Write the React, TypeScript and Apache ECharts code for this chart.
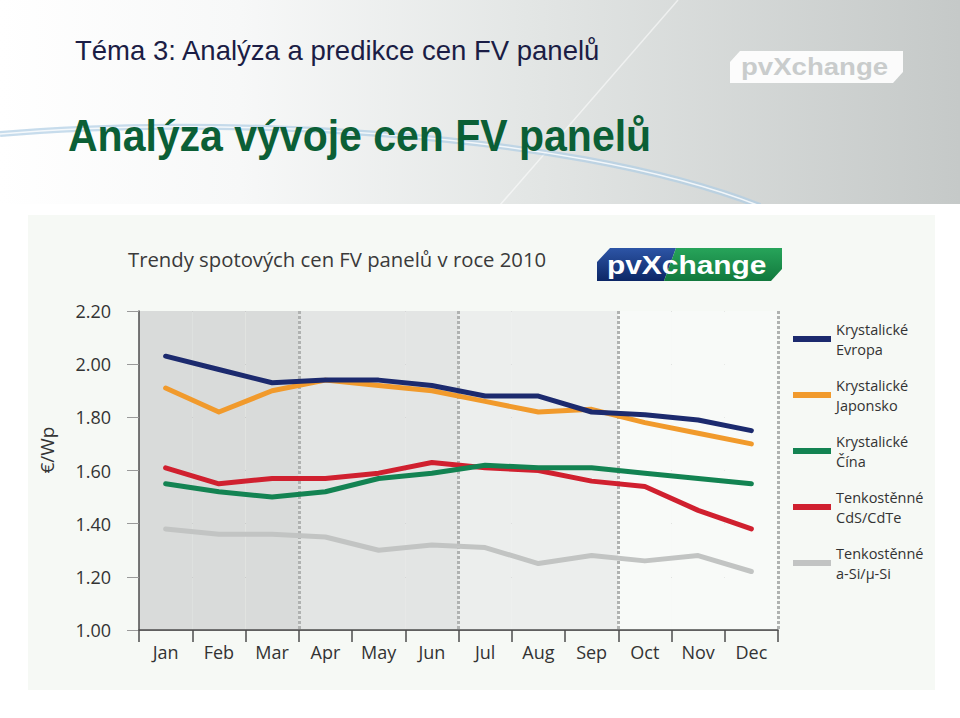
import React, { useEffect, useRef } from 'react';
import * as echarts from 'echarts';

const months = ['Jan', 'Feb', 'Mar', 'Apr', 'May', 'Jun', 'Jul', 'Aug', 'Sep', 'Oct', 'Nov', 'Dec'];
const yMin = 1.0;
const yMax = 2.2;
const yStep = 0.2;

const seriesNames = [
  'Krystalické Evropa',
  'Krystalické Japonsko',
  'Krystalické Čína',
  'Tenkostěnné CdS/CdTe',
  'Tenkostěnné a-Si/µ-Si',
];
const evropa = [2.03, 1.98, 1.93, 1.94, 1.94, 1.92, 1.88, 1.88, 1.82, 1.81, 1.79, 1.75];
const japonsko = [1.91, 1.82, 1.90, 1.94, 1.92, 1.90, 1.86, 1.82, 1.83, 1.78, 1.74, 1.70];
const cina = [1.55, 1.52, 1.50, 1.52, 1.57, 1.59, 1.62, 1.61, 1.61, 1.59, 1.57, 1.55];
const cdte = [1.61, 1.55, 1.57, 1.57, 1.59, 1.63, 1.61, 1.60, 1.56, 1.54, 1.45, 1.38];
const asi = [1.38, 1.36, 1.36, 1.35, 1.30, 1.32, 1.31, 1.25, 1.28, 1.26, 1.28, 1.22];
const seriesColors = ['#1c2a6e', '#f19a2c', '#138352', '#d0202f', '#c2c4c3'];

const quarterShades = ['#d9dbda', '#e3e5e4', '#eceeed', '#f8faf8'];

const headerTitle = 'Téma 3: Analýza a predikce cen FV panelů';
const mainTitle = 'Analýza vývoje cen FV panelů';
const chartTitle = 'Trendy spotových cen FV panelů v roce 2010';
const yAxisName = '€/Wp';

const FONT = 'Open Sans';

export default function App() {
  const ref = useRef<HTMLDivElement>(null);

  useEffect(() => {
    if (!ref.current) return;
    const chart = echarts.init(ref.current, null, { renderer: 'svg' });
    const allData = [evropa, japonsko, cina, cdte, asi];
    const splitColors: string[] = [];
    months.forEach((_, i) => splitColors.push(quarterShades[Math.floor(i / 3)]));

    const txt = (text: string, x: number, y: number, extra: any = {}, style: any = {}) => ({
      type: 'text',
      x,
      y,
      ...extra,
      style: {
        text,
        fill: '#333',
        fontFamily: FONT,
        fontSize: 16,
        align: 'left',
        verticalAlign: 'middle',
        textAlign: 'left',
        textVerticalAlign: 'middle',
        ...style,
      },
    });

    const swoosh = { x1: 0, y1: 134, cpx1: 200, cpy1: 116, cpx2: 560, cpy2: 128, x2: 760, y2: 206 };

    const option: any = {
      animation: false,
      backgroundColor: '#ffffff',
      grid: { left: 139, top: 311, width: 639, height: 319, containLabel: false },
      legend: {
        orient: 'vertical',
        left: 788,
        top: 314,
        itemWidth: 38,
        itemHeight: 6,
        itemGap: 16,
        icon: 'rect',
        data: seriesNames,
        formatter: (n: string) => n.replace(' ', '\n'),
        textStyle: { fontFamily: FONT, fontSize: 14.5, lineHeight: 20, color: '#333' },
      },
      xAxis: {
        type: 'category',
        data: months,
        boundaryGap: true,
        axisLine: { lineStyle: { color: '#4d4d4d', width: 1.5 } },
        axisTick: { show: true, interval: 0, length: 12, lineStyle: { color: '#4d4d4d', width: 1.5 } },
        axisLabel: { interval: 0, margin: 13, fontSize: 18, color: '#333', fontFamily: FONT },
        splitLine: {
          show: true,
          interval: (i: number) => i > 0 && i % 3 === 0,
          lineStyle: { color: '#b0b2b1', width: 3, type: [3, 2] },
        },
        splitArea: { show: true, interval: 0, areaStyle: { color: splitColors } },
      },
      yAxis: {
        type: 'value',
        min: yMin,
        max: yMax,
        interval: yStep,
        axisLine: { show: true, lineStyle: { color: '#4d4d4d', width: 1.5 } },
        axisTick: { show: true, length: 12, lineStyle: { color: '#9a9a9a' } },
        axisLabel: {
          formatter: (v: number) => v.toFixed(2),
          fontSize: 18,
          margin: 28,
          color: '#333',
          fontFamily: FONT,
        },
        splitLine: { show: true, lineStyle: { color: '#9a9a9a', width: 1 } },
      },
      series: seriesNames.map((name, i) => ({
        name,
        type: 'line',
        data: allData[i],
        symbol: 'none',
        showSymbol: false,
        color: seriesColors[i],
        itemStyle: { color: seriesColors[i] },
        lineStyle: { width: 5, color: seriesColors[i], cap: 'round', join: 'round' },
        z: 3 + (4 - i),
      })),
      graphic: [
        // header background
        {
          type: 'rect',
          z: -20,
          shape: { x: 0, y: 0, width: 960, height: 204 },
          style: {
            fill: new echarts.graphic.LinearGradient(0, 0, 1, 0, [
              { offset: 0, color: '#ffffff' },
              { offset: 0.25, color: '#f7f8f8' },
              { offset: 0.55, color: '#e3e6e5' },
              { offset: 1, color: '#c5c9c8' },
            ]),
          },
        },
        {
          type: 'line',
          z: -19,
          shape: { x1: 678, y1: 0, x2: 500, y2: 205 },
          style: { stroke: 'rgba(255,255,255,0.55)', lineWidth: 1.5 },
        },
        {
          type: 'bezierCurve',
          z: -19,
          shape: swoosh,
          style: { stroke: 'rgba(175,205,228,0.7)', lineWidth: 6, fill: 'none' },
        },
        {
          type: 'bezierCurve',
          z: -19,
          shape: swoosh,
          style: { stroke: 'rgba(255,255,255,0.8)', lineWidth: 1.5, fill: 'none' },
        },
        {
          type: 'rect',
          z: -18,
          shape: { x: 0, y: 204, width: 960, height: 14 },
          style: { fill: '#ffffff' },
        },
        // header logo
        {
          type: 'polygon',
          z: -17,
          shape: { points: [[740, 51], [903, 51], [903, 72], [893, 83], [730, 83], [730, 62]] },
          style: { fill: 'rgba(255,255,255,0.92)' },
        },
        txt('pvXchange', 741, 67, { z: -16, scaleX: 1.2 }, {
          fontFamily: 'Liberation Sans', fontWeight: 'bold', fontSize: 23, fill: '#c9cccc',
        }),
        txt(headerTitle, 75, 50, { z: -16 }, {
          fontFamily: 'Liberation Sans', fontSize: 27.5, fill: '#1b1d45',
        }),
        txt(mainTitle, 68, 135, { z: -16, scaleY: 1.08 }, {
          fontFamily: 'Liberation Sans', fontWeight: 'bold', fontSize: 41, fill: '#0b5f36',
        }),
        // chart panel
        {
          type: 'rect',
          z: -15,
          shape: { x: 28, y: 215, width: 907, height: 475 },
          style: { fill: '#f6f9f5' },
        },
        txt(chartTitle, 128, 259, { z: 5 }, { fontSize: 20.3, fill: '#3a3a3a' }),
        txt(yAxisName, 47, 450, { z: 5, rotation: Math.PI / 2 }, {
          fontSize: 19, fill: '#333', align: 'center', textAlign: 'center',
        }),
        // chart logo
        {
          type: 'polygon',
          z: 5,
          shape: { points: [[610, 248], [676, 248], [664, 281], [597, 281], [597, 262]] },
          style: {
            fill: new echarts.graphic.LinearGradient(0, 0, 0, 1, [
              { offset: 0, color: '#2d55a6' },
              { offset: 1, color: '#0c2766' },
            ]),
          },
        },
        {
          type: 'polygon',
          z: 5,
          shape: { points: [[676, 248], [782, 248], [782, 269], [771, 281], [664, 281]] },
          style: {
            fill: new echarts.graphic.LinearGradient(0, 0, 0, 1, [
              { offset: 0, color: '#27a45a' },
              { offset: 1, color: '#12793d' },
            ]),
          },
        },
        txt('pvXchange', 607, 265, { z: 6, scaleX: 1.15 }, {
          fontFamily: 'Liberation Sans', fontWeight: 'bold', fontSize: 26, fill: '#ffffff',
        }),
      ],
    };
    chart.setOption(option);
    return () => chart.dispose();
  }, []);

  return (
    <div
      ref={ref}
      style={{ position: 'absolute', left: 0, top: 0, width: 960, height: 718 }}
    />
  );
}
